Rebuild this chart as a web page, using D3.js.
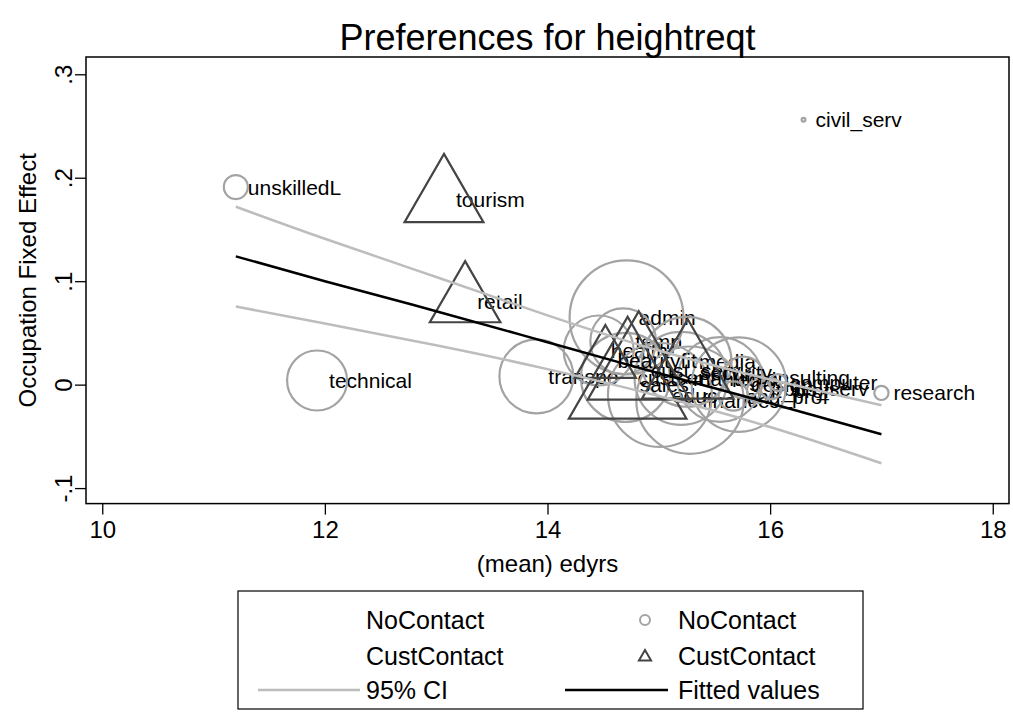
<!DOCTYPE html>
<html>
<head>
<meta charset="utf-8">
<script src="https://cdn.jsdelivr.net/npm/d3@7"></script>
<style>
  body { margin: 0; background: #fff; }
  svg { display: block; font-family: "Liberation Sans", Arial, sans-serif; }
</style>
</head>
<body>
<svg width="1013" height="719"></svg>
<script>
// occupations without customer contact (circles), weight = marker size
var noNames = ["unskilledL", "technical", "transpo", "admin", "temp", "health", "custserv",
  "media", "manuf", "educ", "finance", "legal", "design", "consulting", "eng_prof", "it_prof",
  "computer", "bus_serv", "research", "civil_serv"];
var noX = [11.20, 11.93, 13.90, 14.71, 14.68, 14.46, 14.70, 15.25, 15.20, 15.01, 15.28, 15.55,
  15.72, 15.76, 15.67, 15.90, 16.07, 16.01, 17.00, 16.30];
var noY = [0.191, 0.004, 0.008, 0.065, 0.042, 0.033, 0.007, 0.022, 0.006, -0.010, -0.015, 0.005,
  0.000, 0.007, -0.011, -0.006, 0.002, -0.004, -0.008, 0.256];
var noW = [4, 25, 38, 90, 30, 34, 55, 56, 60, 75, 80, 50, 62, 12, 6, 4, 2, 3, 1.4, 0.1];

// occupations with customer contact (triangles)
var custNames = ["tourism", "retail", "beautyfit", "cust_serv", "sales", "security"];
var custX = [13.07, 13.26, 14.52, 14.82, 14.72, 15.26];
var custY = [0.179, 0.080, 0.0235, 0.014, 0.000, 0.012];
var custW = [40, 32, 24, 67, 89, 54];

// linear fit and 95% CI
var fitX = [11.2, 12, 13, 14, 15, 16, 17];
var fitY = [0.124, 0.100, 0.071, 0.041, 0.011, -0.018, -0.048];
var ciHi = [0.172, 0.141, 0.104, 0.067, 0.033, 0.005, -0.020];
var ciLo = [0.0755, 0.059, 0.038, 0.015, -0.011, -0.041, -0.076];

var xTicks = [10, 12, 14, 16, 18];
var yTicks = [-0.1, 0, 0.1, 0.2, 0.3];
var yTickLabels = ["-.1", "0", ".1", ".2", ".3"];

var svg = d3.select("svg");
var pLeft = 86, pRight = 1009, pTop = 57, pBottom = 503.6;

var x = d3.scaleLinear().domain([9.854, 18.146]).range([pLeft, pRight]);
var y = d3.scaleLinear().domain([-0.115, 0.3167]).range([pBottom, pTop]);
var r = d3.scaleSqrt().domain([0, 100]).range([0, 60]);

var noData = noNames.map(function(n, i) { return {name: n, x: noX[i], y: noY[i], w: noW[i]}; });
var custData = custNames.map(function(n, i) { return {name: n, x: custX[i], y: custY[i], w: custW[i]}; });

// title
svg.append("text")
  .attr("x", (pLeft + pRight) / 2).attr("y", 50)
  .attr("text-anchor", "middle")
  .style("font-size", "36px")
  .text("Preferences for heightreqt");

svg.append("defs").append("clipPath").attr("id", "clip")
  .append("rect").attr("x", pLeft).attr("y", pTop).attr("width", pRight - pLeft).attr("height", pBottom - pTop);

var inner = svg.append("g").attr("clip-path", "url(#clip)");

function labels(data) {
  inner.append("g").selectAll("text")
    .data(data).enter().append("text")
    .attr("x", function(d) { return x(d.x) + 12; })
    .attr("y", function(d) { return y(d.y); })
    .attr("dy", "0.36em")
    .style("font-size", "21px")
    .text(function(d) { return d.name; });
}

// no-contact labels then circles
labels(noData);
inner.append("g").selectAll("circle")
  .data(noData).enter().append("circle")
  .attr("cx", function(d) { return x(d.x); })
  .attr("cy", function(d) { return y(d.y); })
  .attr("r", function(d) { return r(d.w); })
  .attr("fill", "none")
  .attr("stroke", "#a3a3a3")
  .attr("stroke-width", 2.2);

// contact labels then triangles
labels(custData);
var tri = function(R) {
  var h = R * Math.sqrt(3) / 2;
  return "M0," + (-R) + "L" + h + "," + (R / 2) + "L" + (-h) + "," + (R / 2) + "Z";
};
inner.append("g").selectAll("path")
  .data(custData).enter().append("path")
  .attr("transform", function(d) { return "translate(" + x(d.x) + "," + y(d.y) + ")"; })
  .attr("d", function(d) { return tri(r(d.w) * 1.2); })
  .attr("fill", "none")
  .attr("stroke", "#444")
  .attr("stroke-width", 2.2);

// CI and fitted line
var lineOf = function(vals) {
  return d3.line().curve(d3.curveNatural)
    .x(function(d, i) { return x(fitX[i]); })
    .y(function(d) { return y(d); })(vals);
};
[ciHi, ciLo].forEach(function(vals) {
  inner.append("path").attr("d", lineOf(vals))
    .attr("fill", "none").attr("stroke", "#bdbdbd").attr("stroke-width", 2.5);
});
inner.append("path").attr("d", lineOf(fitY))
  .attr("fill", "none").attr("stroke", "#000").attr("stroke-width", 2.5);

// frame
svg.append("rect")
  .attr("x", pLeft).attr("y", pTop).attr("width", pRight - pLeft).attr("height", pBottom - pTop)
  .attr("fill", "none").attr("stroke", "#000").attr("stroke-width", 1.5);

// x axis
var xAxis = svg.append("g").attr("transform", "translate(0," + pBottom + ")")
  .call(d3.axisBottom(x).tickValues(xTicks).tickSize(11).tickSizeOuter(0).tickPadding(6));
xAxis.select(".domain").remove();
xAxis.selectAll("line").attr("stroke-width", 1.3);
xAxis.selectAll("text").style("font-size", "24px").attr("font-family", null);

// y axis, labels turned like Stata
var yAxis = svg.append("g").attr("transform", "translate(" + pLeft + ",0)")
  .call(d3.axisLeft(y).tickValues(yTicks).tickSize(11).tickSizeOuter(0)
    .tickFormat(function(d, i) { return yTickLabels[i]; }));
yAxis.select(".domain").remove();
yAxis.selectAll("line").attr("stroke-width", 1.3);
yAxis.selectAll("text")
  .attr("x", null).attr("dy", null)
  .attr("text-anchor", "middle")
  .attr("transform", "translate(-14,0) rotate(-90)")
  .style("font-size", "24px").attr("font-family", null);

svg.append("text")
  .attr("transform", "translate(36," + ((pTop + pBottom) / 2) + ") rotate(-90)")
  .attr("text-anchor", "middle")
  .style("font-size", "24px")
  .text("Occupation Fixed Effect");

svg.append("text")
  .attr("x", (pLeft + pRight) / 2).attr("y", 572)
  .attr("text-anchor", "middle")
  .style("font-size", "24px")
  .text("(mean) edyrs");

// legend
var lg = svg.append("g");
lg.append("rect").attr("x", 238).attr("y", 591).attr("width", 625).attr("height", 118)
  .attr("fill", "#fff").attr("stroke", "#000").attr("stroke-width", 1.2);
var rows = [620, 656, 690];
var legText = [["NoContact", 366, 0], ["NoContact", 678, 0], ["CustContact", 366, 1],
  ["CustContact", 678, 1], ["95% CI", 366, 2], ["Fitted values", 678, 2]];
lg.selectAll("text.lt").data(legText).enter().append("text")
  .attr("x", function(d) { return d[1]; })
  .attr("y", function(d) { return rows[d[2]]; })
  .attr("dy", "0.36em")
  .style("font-size", "25px")
  .text(function(d) { return d[0]; });
lg.append("circle").attr("cx", 645).attr("cy", rows[0]).attr("r", 5)
  .attr("fill", "none").attr("stroke", "#a3a3a3").attr("stroke-width", 2);
lg.append("path").attr("transform", "translate(645," + (rows[1] + 1) + ")").attr("d", tri(7))
  .attr("fill", "none").attr("stroke", "#444").attr("stroke-width", 2);
lg.append("line").attr("x1", 258).attr("x2", 360).attr("y1", rows[2]).attr("y2", rows[2])
  .attr("stroke", "#bdbdbd").attr("stroke-width", 2.5);
lg.append("line").attr("x1", 565).attr("x2", 668).attr("y1", rows[2]).attr("y2", rows[2])
  .attr("stroke", "#000").attr("stroke-width", 2.5);
</script>
</body>
</html>
